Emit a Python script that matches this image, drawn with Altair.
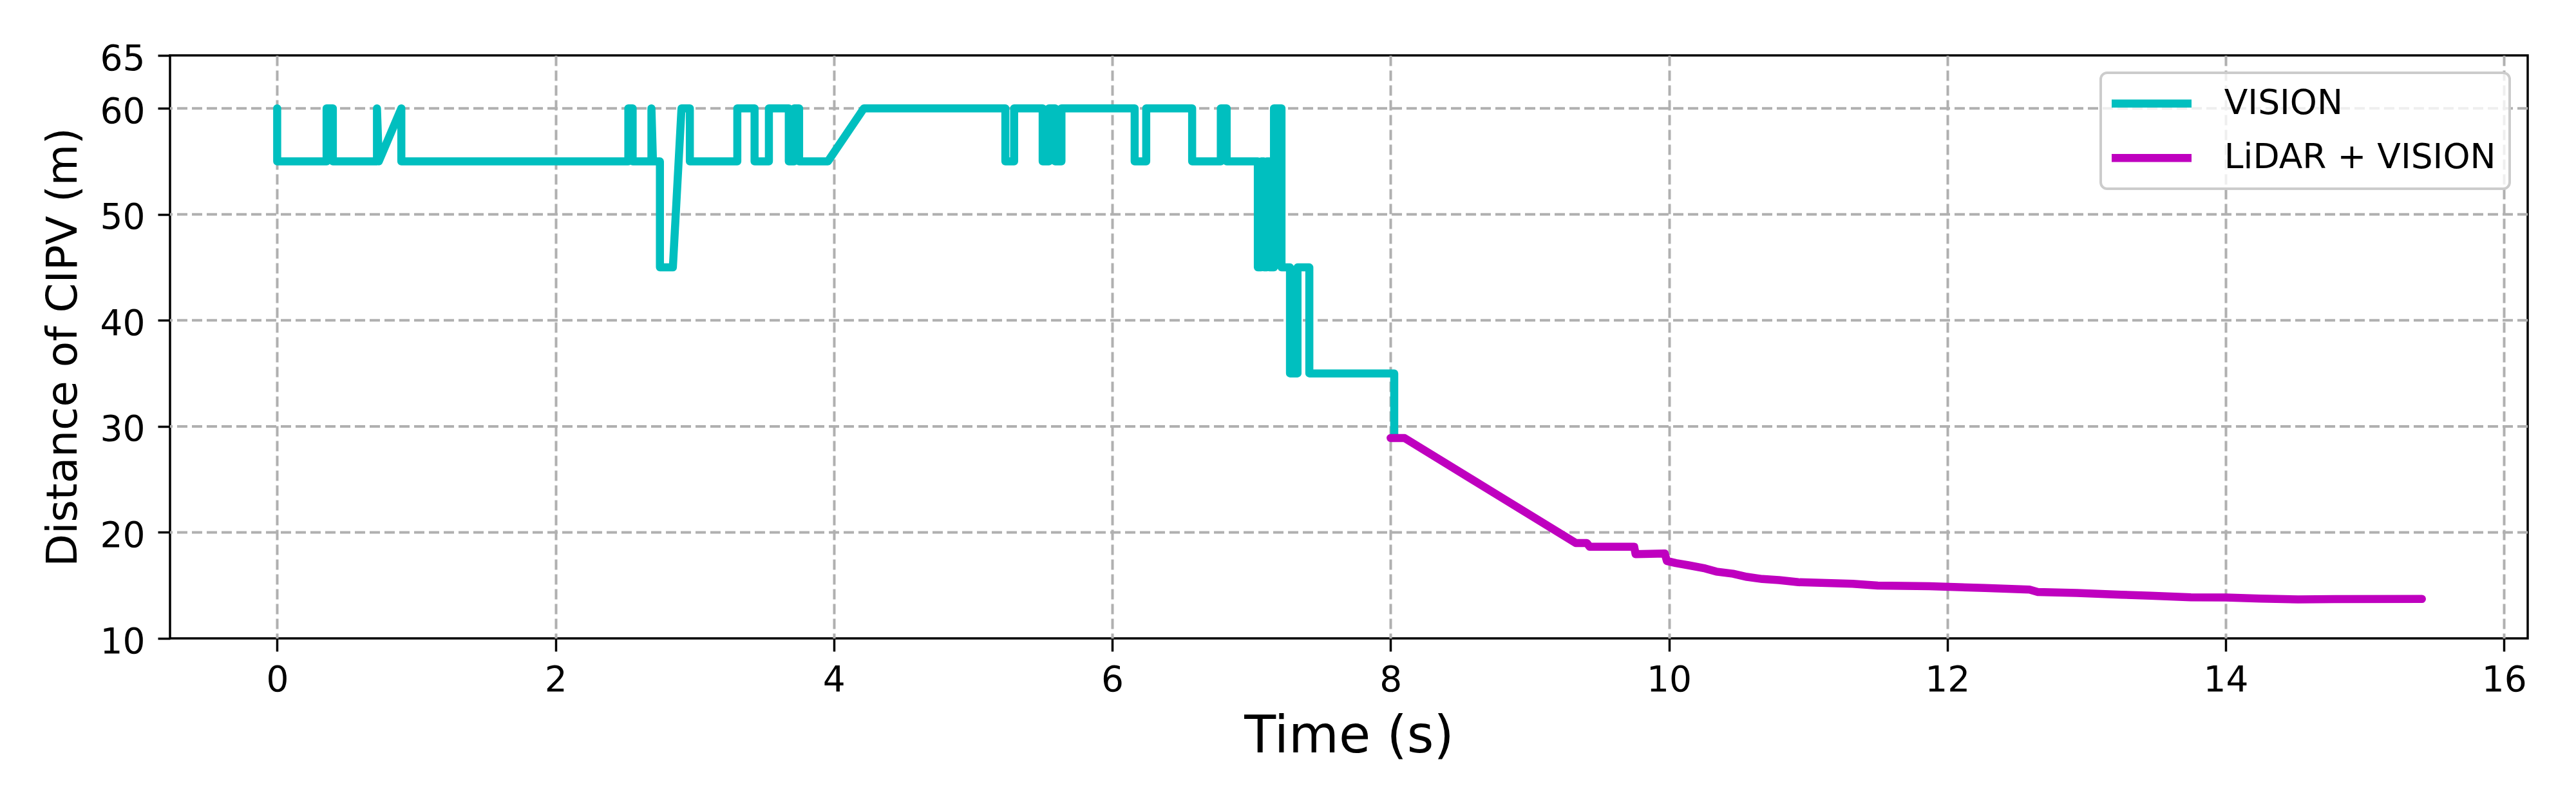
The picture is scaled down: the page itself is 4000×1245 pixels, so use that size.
import altair as alt
import pandas as pd

# ---- data ----
vision_time = [0.0, 0.0, 0.355, 0.355, 0.40, 0.40, 0.717, 0.717, 0.73, 0.892, 0.892,
               2.523, 2.523, 2.554, 2.554, 2.689, 2.689, 2.70, 2.75, 2.75, 2.843, 2.905, 2.965, 2.965,
               3.306, 3.306, 3.43, 3.43, 3.533, 3.533, 3.676, 3.676, 3.715, 3.715, 3.75, 3.75, 3.957, 4.215,
               5.232, 5.232, 5.295, 5.295, 5.50, 5.50, 5.545, 5.545, 5.59, 5.59, 5.635, 5.635,
               6.161, 6.161, 6.244, 6.244, 6.574, 6.574, 6.78, 6.78, 6.822, 6.822,
               7.046, 7.046, 7.07, 7.07, 7.09, 7.09, 7.11, 7.11, 7.13, 7.13, 7.162, 7.162, 7.216, 7.216,
               7.277, 7.277, 7.331, 7.331, 7.416, 7.416, 8.026, 8.026]
vision_dist = [60, 55, 55, 60, 60, 55, 55, 60, 55, 60, 55,
               55, 60, 60, 55, 55, 60, 55, 55, 45, 45, 60, 60, 55,
               55, 60, 60, 55, 55, 60, 60, 55, 55, 60, 60, 55, 55, 60,
               60, 55, 55, 60, 60, 55, 55, 60, 60, 55, 55, 60,
               60, 55, 55, 60, 60, 55, 55, 60, 60, 55,
               55, 45, 45, 55, 55, 45, 45, 55, 55, 45, 45, 60, 60, 45,
               45, 35, 35, 45, 45, 35, 35, 29.0]

fusion_time = [8.0, 8.10, 9.33, 9.41, 9.43, 9.75, 9.76, 9.97, 9.985, 10.05, 10.14, 10.26,
               10.34, 10.46, 10.56, 10.67, 10.79, 10.93, 11.32, 11.5, 11.87, 12.27, 12.59,
               12.65, 12.93, 13.25, 13.46, 13.75, 14.0, 14.25, 14.52, 14.78, 15.41]
fusion_dist = [28.9, 28.9, 19.0, 19.0, 18.65, 18.65, 17.95, 18.0, 17.3, 17.1, 16.9, 16.6,
               16.3, 16.1, 15.8, 15.6, 15.5, 15.3, 15.15, 14.98, 14.92, 14.75, 14.6,
               14.38, 14.28, 14.12, 14.03, 13.88, 13.86, 13.76, 13.68, 13.7, 13.72]

series_names = ["VISION", "LiDAR + VISION"]
series_colors = ["#00bfbf", "#bf00bf"]
x_ticks = [0, 2, 4, 6, 8, 10, 12, 14, 16]
y_ticks = [10, 20, 30, 40, 50, 60, 65]
y_grid = [20, 30, 40, 50, 60]

vision_df = pd.DataFrame({"time": vision_time, "dist": vision_dist,
                          "series": series_names[0], "idx": list(range(len(vision_time)))})
fusion_df = pd.DataFrame({"time": fusion_time, "dist": fusion_dist,
                          "series": series_names[1], "idx": list(range(len(fusion_time)))})
grid_df = pd.DataFrame({"dist": y_grid})

FONT = "DejaVu Sans"
LINE_W = 12.5
x_scale = alt.Scale(domain=[-0.77, 16.17], nice=False, zero=False)
y_scale = alt.Scale(domain=[10, 65], nice=False, zero=False)

x_axis = alt.Axis(values=x_ticks, format="d", title="Time (s)", titleX=1830.5, titleY=176,
                  titleAlign="center", titleBaseline="alphabetic", titleFontSize=80,
                  labelPadding=18, tickSize=20, grid=True, labelFlush=False, labelOverlap=False)
y_axis = alt.Axis(values=y_ticks, title="Distance of CIPV (m)", titleX=-146, titleY=452.5,
                  titleAngle=270, titleAlign="center", titleBaseline="alphabetic", titleFontSize=66,
                  labelPadding=20, labelOffset=5, tickSize=19, grid=False, labelFlush=False,
                  labelOverlap=False)

color = alt.Color(
    "series:N",
    scale=alt.Scale(domain=series_names, range=series_colors),
    legend=alt.Legend(title=None, orient="none", legendX=2998, legendY=27,
                      symbolType="M-6.2,0L6.2,0", symbolSize=400, symbolStrokeWidth=LINE_W,
                      symbolOffset=31.25, labelOffset=86, labelFontSize=53.5, labelFont=FONT,
                      labelColor="black", labelLimit=0, padding=21, rowPadding=29.5,
                      fillColor="rgba(255,255,255,0.8)", strokeColor="#cccccc", cornerRadius=10),
)

grid = alt.Chart(grid_df).mark_rule(color="#b0b0b0", strokeWidth=4, strokeDash=[16, 7]).encode(
    y=alt.Y("dist:Q", scale=y_scale, axis=y_axis)
)


def line_layer(df):
    return alt.Chart(df).mark_line(strokeWidth=LINE_W, strokeJoin="round", strokeCap="round").encode(
        x=alt.X("time:Q", scale=x_scale, axis=x_axis),
        y=alt.Y("dist:Q", scale=y_scale, axis=y_axis),
        color=color,
        order=alt.Order("idx:Q"),
    )


chart = alt.layer(grid, line_layer(vision_df), line_layer(fusion_df)).properties(
    width=3661, height=905,
    padding={"left": 256, "top": 78, "right": 67, "bottom": 246},
    autosize=alt.AutoSizeParams(type="none"),
    background="white",
).configure_axis(
    domain=False, tickColor="black", tickWidth=3.5,
    labelFont=FONT, labelFontSize=55, labelColor="black",
    titleFont=FONT, titleColor="black", titleFontWeight="normal",
    gridColor="#b0b0b0", gridWidth=4, gridDash=[16, 7],
).configure_view(stroke="black", strokeWidth=3.5).configure_legend(strokeWidth=4)

chart.save("out.html", embed_options={"renderer": "svg", "actions": False})
